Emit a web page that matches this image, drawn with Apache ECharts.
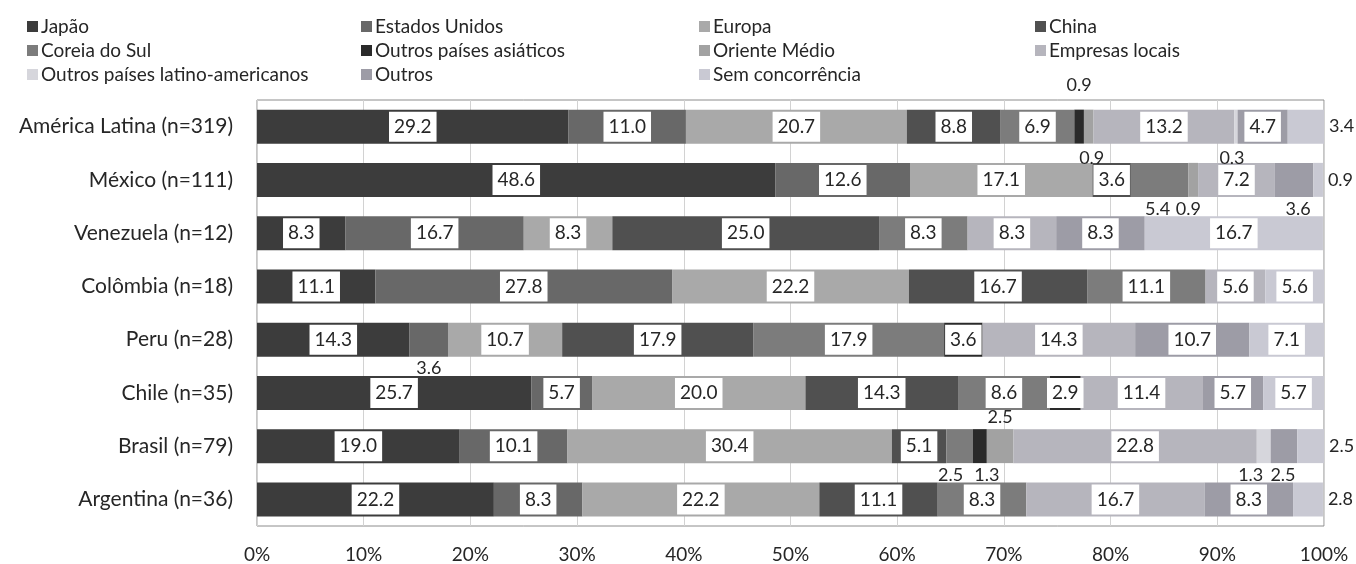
<!DOCTYPE html>
<html>
<head>
<meta charset="utf-8">
<script src="https://cdn.jsdelivr.net/npm/echarts@6/dist/echarts.min.js"></script>
<style>
  html, body { margin: 0; padding: 0; background: #ffffff; }
  #chart { width: 1356px; height: 564px; }
</style>
</head>
<body>
<div id="chart"></div>
<script>
// Principais concorrentes, por país (% das empresas)
const categories = [
  'América Latina (n=319)', 'México (n=111)', 'Venezuela (n=12)', 'Colômbia (n=18)',
  'Peru (n=28)', 'Chile (n=35)', 'Brasil (n=79)', 'Argentina (n=36)'
];
const seriesNames = [
  'Japão', 'Estados Unidos', 'Europa', 'China',
  'Coreia do Sul', 'Outros países asiáticos', 'Oriente Médio', 'Empresas locais',
  'Outros países latino-americanos', 'Outros', 'Sem concorrência'
];

const japao            = [29.2, 48.6,  8.3, 11.1, 14.3, 25.7, 19.0, 22.2];
const estadosUnidos    = [11.0, 12.6, 16.7, 27.8,  3.6,  5.7, 10.1,  8.3];
const europa           = [20.7, 17.1,  8.3, 22.2, 10.7, 20.0, 30.4, 22.2];
const china            = [ 8.8,  3.6, 25.0, 16.7, 17.9, 14.3,  5.1, 11.1];
const coreiaDoSul      = [ 6.9,  5.4,  8.3, 11.1, 17.9,  8.6,  2.5,  8.3];
const outrosAsiaticos  = [ 0.9,  0,    0,    0,    3.6,  2.9,  1.3,  0  ];
const orienteMedio     = [ 0.9,  0.9,  0,    0,    0,    0,    2.5,  0  ];
const empresasLocais   = [13.2,  7.2,  8.3,  5.6, 14.3, 11.4, 22.8, 16.7];
const outrosLatinos    = [ 0.3,  0,    0,    0,    0,    0,    1.3,  0  ];
const outros           = [ 4.7,  3.6,  8.3,  0,   10.7,  5.7,  2.5,  8.3];
const semConcorrencia  = [ 3.4,  0.9, 16.7,  5.6,  7.1,  5.7,  2.5,  2.8];

const seriesValues = [
  japao, estadosUnidos, europa, china, coreiaDoSul, outrosAsiaticos,
  orienteMedio, empresasLocais, outrosLatinos, outros, semConcorrencia
];

// Fill colours, one per series (greyscale print palette)
const colors = [
  '#3c3c3c', '#686868', '#a9a9a9', '#505050', '#7c7c7c', '#2a2a2a',
  '#a2a2a2', '#b6b5bd', '#d6d6dc', '#9d9ca6', '#c9c9d3'
];

// Labels drawn outside their segment: [row][series] -> placement
const outsideLabels = {
  0: { 5: { pos: 'top', dist: 13 }, 6: { pos: 'bottom', dist: 4, dx: 3 },
       8: { pos: 'bottom', dist: 4, dx: -4 }, 10: { pos: 'right' } },
  1: { 4: { pos: 'bottom', dx: -2 }, 6: { pos: 'bottom', dx: -5 },
       9: { pos: 'bottom', dx: 4 }, 10: { pos: 'right' } },
  4: { 1: { pos: 'bottom' } },
  6: { 4: { pos: 'bottom', dx: -9 }, 5: { pos: 'bottom', dx: 7 }, 6: { pos: 'top' },
       8: { pos: 'bottom', dx: -13 }, 9: { pos: 'bottom', dx: -1 }, 10: { pos: 'right' } },
  7: { 10: { pos: 'right' } }
};

const FONT = 'Lato, "Noto Sans", sans-serif';
const TEXT = '#262626';

const insideLabel = {
  show: true,
  position: 'inside',
  color: TEXT,
  fontFamily: FONT,
  fontSize: 19,
  lineHeight: 22,
  backgroundColor: '#ffffff',
  padding: [4, 5, 4, 5],
  formatter: p => p.value.toFixed(1)
};

function buildData(values, s) {
  return values.map((v, row) => {
    if (!v) return { value: v, label: { show: false } };
    const o = outsideLabels[row] && outsideLabels[row][s];
    if (!o) return { value: v };
    return {
      value: v,
      label: {
        show: true,
        position: o.pos,
        distance: o.dist !== undefined ? o.dist : (o.pos === 'right' ? 5 : 1),
        offset: [o.dx || 0, 0],
        fontSize: 18,
        backgroundColor: 'transparent',
        padding: 0
      }
    };
  });
}

const series = seriesNames.map((name, s) => ({
  name: name,
  type: 'bar',
  stack: 'total',
  barWidth: 34,
  itemStyle: { color: colors[s] },
  label: insideLabel,
  emphasis: { disabled: true },
  data: buildData(seriesValues[s], s)
}));

// Legend laid out as a 4-column grid, filled row by row
const legendCols = [22, 356, 694, 1030];
const legendRows = [12, 36, 60];
const legends = seriesNames.map((name, i) => ({
  data: [name],
  left: legendCols[i % 4],
  top: legendRows[Math.floor(i / 4)],
  icon: 'rect',
  itemWidth: 11,
  itemHeight: 11,
  itemGap: 0,
  selectedMode: false,
  textStyle: { fontFamily: FONT, fontSize: 19, color: TEXT, padding: [0, 0, 0, -2] }
}));

const chart = echarts.init(document.getElementById('chart'), null, { renderer: 'canvas' });
chart.setOption({
  animation: false,
  backgroundColor: '#ffffff',
  legend: legends,
  grid: {
    left: 257, right: 32, top: 100, bottom: 36,
    show: true, borderColor: '#8c8c8c', borderWidth: 1, backgroundColor: 'transparent'
  },
  xAxis: {
    type: 'value',
    min: 0, max: 100, interval: 10,
    axisLine: { show: false },
    axisTick: { show: false },
    splitLine: { show: true, lineStyle: { color: '#d2d2d2', width: 1 } },
    axisLabel: {
      formatter: '{value}%', margin: 19,
      fontFamily: FONT, fontSize: 19, color: TEXT
    }
  },
  yAxis: {
    type: 'category',
    data: categories,
    inverse: true,
    axisLine: { show: false },
    axisTick: { show: false },
    axisLabel: { margin: 24, fontFamily: FONT, fontSize: 21, color: TEXT }
  },
  series: series
});
</script>
</body>
</html>
